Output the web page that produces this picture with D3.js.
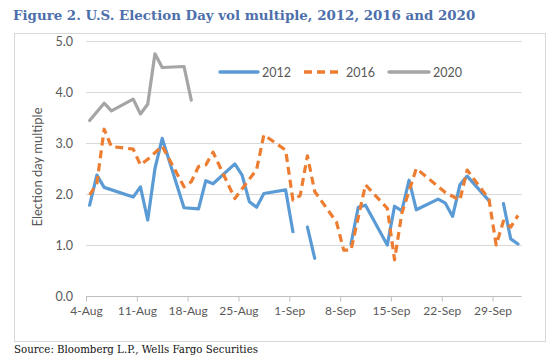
<!DOCTYPE html>
<html>
<head>
<meta charset="utf-8">
<script src="https://cdn.jsdelivr.net/npm/d3@7"></script>
<style>
  html, body { margin: 0; padding: 0; background: #fff; }
  svg { display: block; }
</style>
</head>
<body>
<svg id="chart" width="560" height="360"></svg>
<script>
// ---------- data ----------
const titleText = "Figure 2. U.S. Election Day vol multiple, 2012, 2016 and 2020";
const sourceText = "Source: Bloomberg L.P., Wells Fargo Securities";
const yAxisTitle = "Election day multiple";
const seriesNames = ["2012", "2016", "2020"];
const xTickLabels = ["4-Aug", "11-Aug", "18-Aug", "25-Aug", "1-Sep", "8-Sep", "15-Sep", "22-Sep", "29-Sep"];
const yTickValues = [0, 1, 2, 3, 4, 5];

const dates2012 = ["4-Aug","5-Aug","6-Aug","10-Aug","11-Aug","12-Aug","13-Aug","14-Aug","17-Aug","19-Aug","20-Aug","21-Aug","24-Aug","25-Aug","26-Aug","27-Aug","28-Aug","31-Aug","1-Sep","2-Sep","3-Sep","4-Sep","7-Sep","9-Sep","10-Sep","11-Sep","14-Sep","15-Sep","16-Sep","17-Sep","18-Sep","21-Sep","22-Sep","23-Sep","24-Sep","25-Sep","28-Sep","29-Sep","30-Sep","1-Oct","2-Oct"];
const values2012 = [1.78,2.37,2.13,1.94,2.14,1.49,2.50,3.09,1.73,1.71,2.26,2.20,2.59,2.37,1.85,1.74,2.01,2.08,1.26,null,1.35,0.74,null,1.02,1.74,1.78,1.00,1.76,1.67,2.27,1.69,1.90,1.82,1.56,2.18,2.35,1.87,null,1.81,1.12,1.02];

const dates2016 = ["4-Aug","5-Aug","6-Aug","7-Aug","10-Aug","11-Aug","12-Aug","14-Aug","17-Aug","18-Aug","19-Aug","20-Aug","21-Aug","24-Aug","27-Aug","28-Aug","31-Aug","1-Sep","2-Sep","3-Sep","4-Sep","7-Sep","8-Sep","9-Sep","11-Sep","14-Sep","15-Sep","16-Sep","18-Sep","22-Sep","24-Sep","25-Sep","28-Sep","29-Sep","30-Sep","1-Oct","2-Oct"];
const values2016 = [1.98,2.21,3.27,2.93,2.88,2.57,2.68,2.94,2.14,2.24,2.54,2.57,2.82,1.91,2.48,3.16,2.86,1.88,1.97,2.75,2.05,1.45,0.90,0.90,2.18,1.72,0.71,1.62,2.50,2.03,1.88,2.47,1.90,1.00,1.47,1.35,1.58];

const dates2020 = ["4-Aug","6-Aug","7-Aug","10-Aug","11-Aug","12-Aug","13-Aug","14-Aug","17-Aug","18-Aug"];
const values2020 = [3.44,3.78,3.63,3.86,3.57,3.76,4.75,4.48,4.50,3.84];

const axisStart = "4-Aug";
const axisEnd = "3-Oct";

// ---------- setup ----------
const parse = s => d3.utcParse("%d-%b-%Y")(s + "-2020");
const halfDay = 12 * 3600 * 1000;
const svg = d3.select("#chart");

const colors = {"2012": "#5b9bd5", "2016": "#ed7d31", "2020": "#a5a5a5"};
const textGray = "#595959";
const axisFont = "Lato, 'Open Sans', sans-serif";

const x = d3.scaleUtc().domain([parse(axisStart), parse(axisEnd)]).range([86, 521.6]);
const y = d3.scaleLinear().domain([0, 5]).range([296, 41]);

// chart frame
svg.append("rect").attr("x", 14.5).attr("y", 33.5).attr("width", 531).attr("height", 308)
  .attr("fill", "none").attr("stroke", "#d9d9d9").attr("stroke-width", 1);

// title
const title = svg.append("text").attr("x", 13).attr("y", 20)
  .attr("font-family", "'DejaVu Serif', Georgia, serif").attr("font-weight", "bold")
  .attr("font-size", 14).attr("fill", "#4d6fab").text(titleText);
{
  const w = title.node().getComputedTextLength();
  title.attr("font-size", 14 * 463 / w);
}

// source
const src = svg.append("text").attr("x", 14).attr("y", 353)
  .attr("font-family", "'DejaVu Serif', Georgia, serif")
  .attr("font-size", 11).attr("fill", "#111").text(sourceText);
{
  const w = src.node().getComputedTextLength();
  src.attr("font-size", 11 * 244 / w);
}

// gridlines
svg.append("g").selectAll("line").data(yTickValues.filter(v => v > 0)).join("line")
  .attr("x1", x.range()[0]).attr("x2", x.range()[1])
  .attr("y1", d => Math.round(y(d)) + 0.5).attr("y2", d => Math.round(y(d)) + 0.5)
  .attr("stroke", "#d9d9d9").attr("stroke-width", 1);

// y axis labels
const yAxis = d3.axisLeft(y).tickValues(yTickValues).tickFormat(d3.format(".1f")).tickSize(0).tickPadding(13);
const gy = svg.append("g").attr("transform", `translate(${x.range()[0]},0)`).call(yAxis);
gy.select(".domain").remove();
gy.selectAll("text").attr("font-family", axisFont).attr("font-size", 12.5).attr("fill", textGray);

// x axis
const tickDates = xTickLabels.map(parse);
const xAxis = d3.axisBottom(x).tickValues(tickDates).tickFormat(d3.utcFormat("%-d-%b")).tickSize(5).tickPadding(5);
const gx = svg.append("g").attr("transform", `translate(0,${Math.round(y(0)) + 0.5})`).call(xAxis);
gx.select(".domain").attr("stroke", "#bfbfbf").attr("d", `M${x.range()[0]},0H${x.range()[1]}`);
gx.selectAll(".tick line").attr("stroke", "#bfbfbf");
gx.selectAll("text").attr("font-family", axisFont).attr("font-size", 12).attr("fill", textGray);

// y axis title
svg.append("text").attr("transform", "translate(42,167) rotate(-90)")
  .attr("text-anchor", "middle").attr("font-family", axisFont).attr("font-size", 13)
  .attr("fill", textGray).text(yAxisTitle);

// series
const series = [
  {name: "2012", dates: dates2012, values: values2012, dash: null},
  {name: "2016", dates: dates2016, values: values2016, dash: "8,5"},
  {name: "2020", dates: dates2020, values: values2020, dash: null}
];

const line = d3.line()
  .defined(d => d.v !== null)
  .x(d => x(new Date(d.t.getTime() + halfDay)))
  .y(d => y(d.v));

// draw order: 2020, 2016, 2012 underneath? Excel draws series in order 2012, 2016, 2020
series.forEach(s => {
  const pts = s.dates.map((dt, i) => ({t: parse(dt), v: s.values[i]}));
  svg.append("path").datum(pts)
    .attr("d", line)
    .attr("fill", "none")
    .attr("stroke", colors[s.name])
    .attr("stroke-width", 3.2)
    .attr("stroke-linejoin", "round")
    .attr("stroke-linecap", s.dash ? "butt" : "round")
    .attr("stroke-dasharray", s.dash);
});

// legend
const legendItems = [
  {name: "2012", x1: 220, x2: 258, tx: 262},
  {name: "2016", x1: 304, x2: 341, tx: 346},
  {name: "2020", x1: 389, x2: 429, tx: 433}
];
const lg = svg.append("g");
legendItems.forEach((it, i) => {
  const s = series[i];
  lg.append("line").attr("x1", it.x1).attr("x2", it.x2).attr("y1", 72).attr("y2", 72)
    .attr("stroke", colors[s.name]).attr("stroke-width", 3.5)
    .attr("stroke-linecap", s.dash ? "butt" : "round")
    .attr("stroke-dasharray", s.dash);
  lg.append("text").attr("x", it.tx).attr("y", 76.5)
    .attr("font-family", axisFont).attr("font-size", 12.5).attr("fill", textGray)
    .text(seriesNames[i]);
});
</script>
</body>
</html>
